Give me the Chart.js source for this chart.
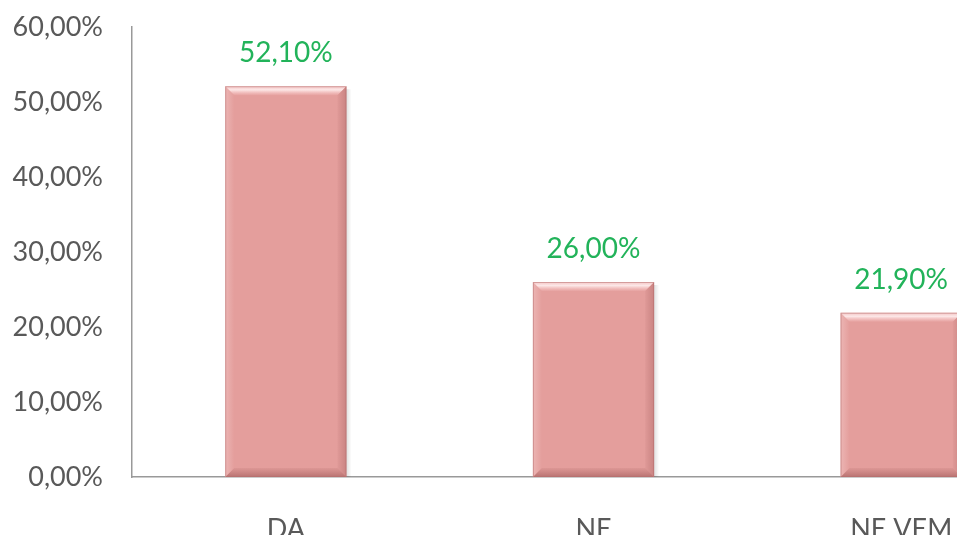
<!DOCTYPE html>
<html>
<head>
<meta charset="utf-8">
<script src="https://cdn.jsdelivr.net/npm/chart.js@4"></script>
<style>
  html, body { margin: 0; padding: 0; background: #fff; overflow: hidden; }
  #wrap { position: absolute; left: 0; top: 0; width: 1055px; height: 560px; }
</style>
</head>
<body>
<div id="wrap"><canvas id="grafico" width="1055" height="560"></canvas></div>
<script>
const categorias = ["DA", "NE", "NE VEM"];
const valores = [52.1, 26.0, 21.9];
const eixoY = { min: 0, max: 60, passo: 10 };

function formatar(v) {
  return v.toFixed(2).replace(".", ",") + "%";
}

// texto verde acima de cada barra
const rotulos = {
  id: "rotulos",
  afterDatasetsDraw(chart) {
    const ctx = chart.ctx;
    const meta = chart.getDatasetMeta(0);
    ctx.save();
    ctx.font = "28px Lato";
    ctx.fillStyle = "#22b35a";
    ctx.textAlign = "center";
    ctx.textBaseline = "middle";
    meta.data.forEach((barra, i) => {
      ctx.fillText(formatar(valores[i]), barra.x, barra.y - 33);
    });
    ctx.restore();
  },
};

// efeito de relevo nas barras
const relevo = {
  id: "relevo",
  afterDatasetsDraw(chart) {
    const ctx = chart.ctx;
    const meta = chart.getDatasetMeta(0);
    ctx.save();
    meta.data.forEach((barra) => {
      const l = barra.x - barra.width / 2;
      const r = barra.x + barra.width / 2;
      const t = barra.y;
      const b = barra.base;
      const e = 9;
      // topo claro
      let g = ctx.createLinearGradient(0, t, 0, t + e);
      g.addColorStop(0, "rgba(255,225,225,0.6)");
      g.addColorStop(0.4, "rgba(255,240,240,0.9)");
      g.addColorStop(1, "rgba(255,210,210,0.1)");
      ctx.fillStyle = g;
      ctx.beginPath();
      ctx.moveTo(l, t); ctx.lineTo(r, t); ctx.lineTo(r - e, t + e); ctx.lineTo(l + e, t + e);
      ctx.closePath(); ctx.fill();
      // base escura
      g = ctx.createLinearGradient(0, b - e, 0, b);
      g.addColorStop(0, "rgba(150,80,80,0.1)");
      g.addColorStop(1, "rgba(130,60,60,0.45)");
      ctx.fillStyle = g;
      ctx.beginPath();
      ctx.moveTo(l, b); ctx.lineTo(r, b); ctx.lineTo(r - e, b - e); ctx.lineTo(l + e, b - e);
      ctx.closePath(); ctx.fill();
      // lados
      g = ctx.createLinearGradient(r - e, 0, r, 0);
      g.addColorStop(0, "rgba(140,70,70,0.05)");
      g.addColorStop(1, "rgba(140,70,70,0.3)");
      ctx.fillStyle = g;
      ctx.beginPath();
      ctx.moveTo(r, t); ctx.lineTo(r, b); ctx.lineTo(r - e, b - e); ctx.lineTo(r - e, t + e);
      ctx.closePath(); ctx.fill();
      g = ctx.createLinearGradient(l, 0, l + e, 0);
      g.addColorStop(0, "rgba(255,235,235,0.3)");
      g.addColorStop(1, "rgba(255,235,235,0.0)");
      ctx.fillStyle = g;
      ctx.beginPath();
      ctx.moveTo(l, t); ctx.lineTo(l, b); ctx.lineTo(l + e, b - e); ctx.lineTo(l + e, t + e);
      ctx.closePath(); ctx.fill();
      ctx.strokeStyle = "rgba(180,110,110,0.5)";
      ctx.lineWidth = 1;
      ctx.strokeRect(l + 0.5, t + 0.5, r - l - 1, b - t - 1);
      // sombra suave à direita
      g = ctx.createLinearGradient(r, 0, r + 5, 0);
      g.addColorStop(0, "rgba(0,0,0,0.12)");
      g.addColorStop(1, "rgba(0,0,0,0)");
      ctx.fillStyle = g;
      ctx.fillRect(r, t + 3, 5, b - t - 3);
    });
    ctx.restore();
  },
};

const ctx = document.getElementById("grafico").getContext("2d");
const grafico = new Chart(ctx, {
  type: "bar",
  data: {
    labels: categorias,
    datasets: [
      {
        data: valores,
        backgroundColor: "#e49e9c",
        borderWidth: 0,
        barPercentage: 0.394,
        categoryPercentage: 1,
      },
    ],
  },
  plugins: [relevo, rotulos],
  options: {
    responsive: false,
    animation: false,
    layout: { padding: { top: 27, right: 0, left: 0, bottom: 0 } },
    plugins: {
      legend: { display: false },
      tooltip: { enabled: false },
    },
    scales: {
      x: {
        grid: { display: false, drawTicks: false },
        border: { color: "#999999", width: 1.5 },
        ticks: { color: "#595959", font: { family: "Lato", size: 27 }, padding: 36 },
        afterFit(scale) { scale.height = 83; },
      },
      y: {
        min: eixoY.min,
        max: eixoY.max,
        grid: { display: false, drawTicks: false },
        border: { color: "#999999", width: 1.5 },
        ticks: {
          stepSize: eixoY.passo,
          color: "#595959",
          font: { family: "Lato", size: 27 },
          padding: 29,
          callback: (v) => formatar(v),
        },
        afterFit(scale) {
          scale.width = 132;
          scale.paddingTop = 0;
          scale.paddingBottom = 0;
        },
      },
    },
  },
});
</script>
</body>
</html>
